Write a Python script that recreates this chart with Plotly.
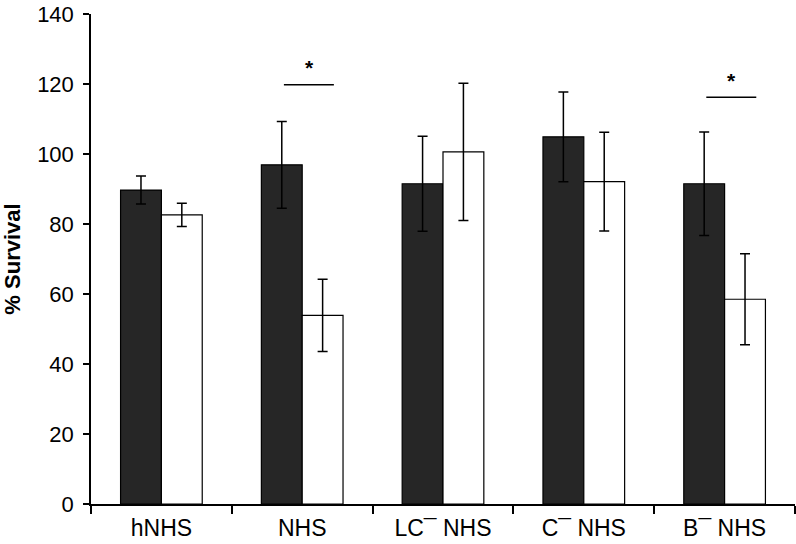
import plotly.graph_objects as go

categories = ["hNHS", "NHS", "LC¯ NHS", "C¯ NHS", "B¯ NHS"]
dark_values = [89.7, 96.9, 91.5, 104.9, 91.5]
dark_errors = [4.0, 12.4, 13.6, 12.8, 14.8]
white_values = [82.6, 53.9, 100.6, 92.1, 58.5]
white_errors = [3.3, 10.3, 19.6, 14.1, 13.0]
sig_categories = ["NHS", "B¯ NHS"]
sig_levels = [119.8, 116.2]

font_family = "Liberation Sans, Arial, sans-serif"

fig = go.Figure()
fig.add_trace(go.Bar(
    x=categories, y=dark_values,
    marker=dict(color="#262626", line=dict(color="#000000", width=1.2)),
    error_y=dict(type="data", array=dark_errors, color="#000000", thickness=1.5, width=5),
    showlegend=False,
))
fig.add_trace(go.Bar(
    x=categories, y=white_values,
    marker=dict(color="#ffffff", line=dict(color="#000000", width=1.2)),
    error_y=dict(type="data", array=white_errors, color="#000000", thickness=1.5, width=5),
    showlegend=False,
))

for cat, lvl in zip(sig_categories, sig_levels):
    i = categories.index(cat)
    fig.add_shape(type="line", xref="x", yref="y",
                  x0=i - 0.13, x1=i + 0.225, y0=lvl, y1=lvl,
                  line=dict(color="#000000", width=1.5))
    fig.add_annotation(x=i + 0.05, y=lvl + 1.0, xref="x", yref="y",
                       text="<b>*</b>", showarrow=False, yanchor="bottom",
                       font=dict(size=21, color="#000000", family=font_family))

fig.update_layout(
    width=796, height=544,
    margin=dict(l=91, r=1, t=14, b=40),
    plot_bgcolor="#ffffff", paper_bgcolor="#ffffff",
    barmode="group", bargap=0.42, bargroupgap=0,
    font=dict(family=font_family, size=22, color="#000000"),
)
fig.update_xaxes(
    showline=True, linecolor="#000000", linewidth=1.5,
    ticks="outside", ticklen=8, tickcolor="#000000", tickwidth=1.5,
    tickson="boundaries", showgrid=False, zeroline=False,
    tickfont=dict(size=23), ticklabelstandoff=3,
)
fig.update_yaxes(
    range=[0, 140], dtick=20, showline=True, linecolor="#000000", linewidth=1.5,
    ticks="outside", ticklen=6, tickcolor="#000000", tickwidth=1.5,
    showgrid=False, zeroline=False, ticklabeloverflow="allow",
    tickfont=dict(size=22), ticklabelstandoff=5,
    title=dict(text="<b>% Survival</b>", font=dict(size=22), standoff=10),
)

fig.write_html("out.html", post_script="document.body.style.margin='0';",
               config={"displayModeBar": False})
